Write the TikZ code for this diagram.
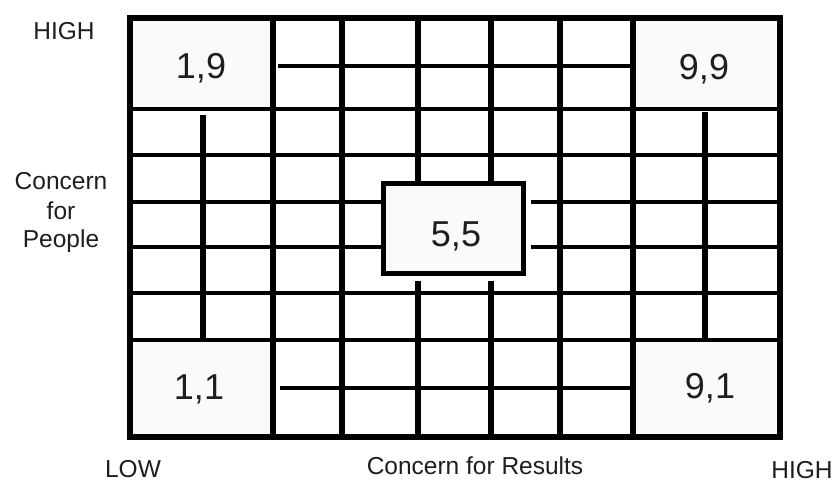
\documentclass[tikz,border=0pt]{standalone}
\usepackage{fontspec}
\setmainfont{Liberation Sans}
\definecolor{boxgray}{HTML}{FAFAFA}
\definecolor{inkgray}{HTML}{1E1E1E}
\begin{document}
\begin{tikzpicture}[x=1pt,y=-1pt,
  vline/.style={line width=5.5pt},
  hline/.style={line width=4.5pt},
  frame/.style={line width=5.5pt},
  cornerbox/.style={fill=boxgray},
  score/.style={font=\fontsize{36}{40}\selectfont, text=inkgray, anchor=base, inner sep=0pt},
  axislabel/.style={font=\fontsize{24.5}{28}\selectfont, text=inkgray, anchor=base, inner sep=0pt},
  midbox/.style={draw, line width=5pt, fill=boxgray, minimum width=140pt, minimum height=90pt, inner sep=0pt}]
\useasboundingbox[fill=white] (0,0) rectangle (839,482);
% corner areas
\fill[cornerbox] (130,18) rectangle (273,109);
\fill[cornerbox] (633,18) rectangle (780,109);
\fill[cornerbox] (130,340) rectangle (273,437);
\fill[cornerbox] (633,340) rectangle (780,437);
% vertical grid lines
\draw[vline] (203,115) -- (203,340);
\draw[vline] (273,18) -- (273,437);
\draw[vline] (342,18) -- (342,437);
\draw[vline] (418,18) -- (418,437);
\draw[vline] (491,18) -- (491,437);
\draw[vline] (560,18) -- (560,437);
\draw[vline] (633,18) -- (633,437);
\draw[vline] (705,112) -- (705,340);
% horizontal grid lines
\draw[hline] (278,66) -- (633,66);
\draw[hline] (130,109) -- (780,109);
\draw[hline] (130,155) -- (780,155);
\draw[hline] (130,202) -- (780,202);
\draw[hline] (130,247) -- (780,247);
\draw[hline] (130,293) -- (780,293);
\draw[hline] (130,340) -- (780,340);
\draw[hline] (280,388) -- (633,388);
% outer frame
\draw[frame] (130,18) rectangle (780,437);
% 5,5 box with small gap below and right
\fill[white] (381,181) rectangle (531,281);
\node[midbox] (b55) at (453.5,228) {};
% scores
\node[score] (t19) at (201,78) {1,9};
\node[score] (t99) at (704,79) {9,9};
\node[score] (t11) at (199,399) {1,1};
\node[score] (t91) at (710,398) {9,1};
\node[score] (t55) at (456,246) {5,5};
% axis labels
\node[axislabel] (hightop) at (64,39) {HIGH};
\node[axislabel] (cp1) at (61,189) {Concern};
\node[axislabel] (cp2) at (61,219) {for};
\node[axislabel] (cp3) at (61,247) {People};
\node[axislabel] (low) at (133,477) {LOW};
\node[axislabel] (cr) at (475,474) {Concern for Results};
\node[axislabel] (highbot) at (802,478) {HIGH};
\end{tikzpicture}
\end{document}
